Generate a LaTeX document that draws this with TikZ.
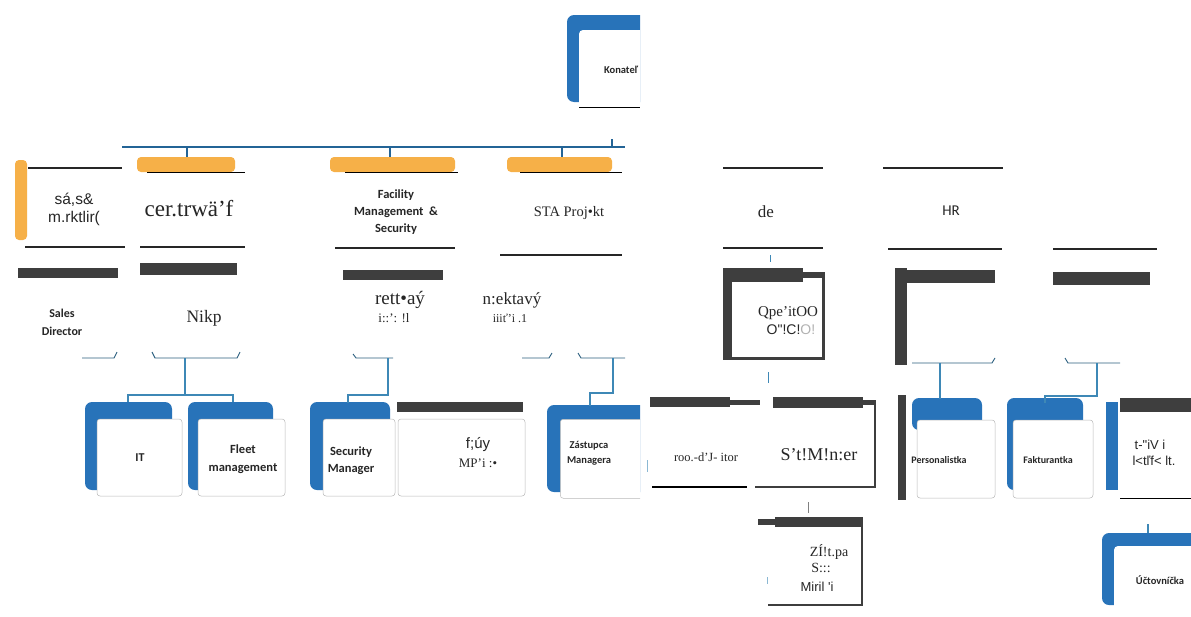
\documentclass[tikz,border=0pt]{standalone}
\usepackage{fontspec}
\setmainfont{Liberation Serif}
\newfontfamily\carl{Carlito}
\newfontfamily\lsans{Liberation Sans}
\definecolor{tabblue}{RGB}{40,115,185}
\definecolor{connblue}{RGB}{62,136,182}
\definecolor{busblue}{RGB}{35,100,150}
\definecolor{tabor}{RGB}{246,176,72}
\definecolor{darkbar}{RGB}{62,62,62}
\begin{document}
\begin{tikzpicture}[x=1pt,y=-1pt,
 btab/.style={fill=tabblue, rounded corners=7pt},
 otab/.style={fill=tabor, rounded corners=4pt},
 card/.style={fill=white, draw=gray!55, line width=0.5pt, rounded corners=3pt},
 dbar/.style={fill=darkbar},
 rulel/.style={draw=black!85, line width=1.4pt},
 conn/.style={draw=connblue, line width=1.6pt},
 brk/.style={draw=connblue!70!black, line width=0.9pt},
 txt/.style={inner sep=0pt, align=center, text=black!85},
 bsans/.style={font=\carl\bfseries\fontsize{#1}{16}\selectfont},
]
\useasboundingbox (0,0) rectangle (1191,616);
\clip (0,0) rectangle (1191,616);
\path[fill=white] (0,0) rectangle (1191,616);

% ---------- Konatel (cut at 640) ----------
\begin{scope}
\clip (0,0) rectangle (640,616);
\fill[btab] (567,15) rectangle (690,102);
\fill[white, rounded corners=4pt] (579,30) rectangle (690,107);
\draw[line width=1pt] (579,107) -- (640,107);
\node[txt, font=\carl\bfseries\fontsize{10.5}{12}\selectfont] (kon) at (621,70) {Konateľ};
\end{scope}

% ---------- bus ----------
\coordinate (busL) at (122,147);
\coordinate (busR) at (625,147);
\draw[draw=busblue, line width=2pt] (busL) -- (busR);
\draw[draw=busblue, line width=2pt] (612,139) -- (612,147);
\foreach \x in {187,390,562} \draw[draw=busblue, line width=1.6pt] (\x,147) -- (\x,158);

% ---------- Sales & marketing ----------
\fill[otab] (15,160) rectangle (27,240);
\draw[rulel] (28,168) -- (122,168);
\node[txt, font=\lsans\fontsize{15.5}{18}\selectfont] (sm) at (74,209) {sá,s\&\\m.rktlir(};
\draw[rulel] (25,247) -- (125,247);
\fill[dbar] (18,268) rectangle (118,278);
\node[txt, font=\carl\bfseries\fontsize{12}{18}\selectfont] (sd) at (62,322) {Sales\\Director};
\draw[brk] (82,358) -- (114,358) -- (117,352);

% ---------- centre ----------
\fill[otab] (137,157) rectangle (235,172);
\draw[line width=0.8pt] (147,172) -- (245,172);
\node[txt, font=\fontsize{23}{26}\selectfont] (ce) at (189,209) {cer.trwä'f};
\draw[rulel] (140,247) -- (245,247);
\fill[dbar] (140,263) rectangle (237,275);
\node[txt, font=\fontsize{17.5}{19}\selectfont] (nk) at (204,318) {Nikp};
\draw[brk] (152,352) -- (155,358) -- (237,358) -- (240,352);
\coordinate (brC) at (185,358);

% ---------- Facility ----------
\fill[otab] (330,157) rectangle (455,172);
\draw[line width=0.8pt] (345,172) -- (458,172);
\node[txt, font=\carl\bfseries\fontsize{12.5}{17}\selectfont] (fm) at (396,212) {Facility\\Management \ \&\\Security};
\draw[rulel] (335,248) -- (455,248);
\fill[dbar] (343,270) rectangle (443,280);
\node[txt, font=\fontsize{19}{20}\selectfont] (rt) at (400,300) {rett•aý};
\node[txt, font=\fontsize{13}{14}\selectfont] (rt2) at (394,318) {i::': !l};
\draw[brk] (353,354) -- (356,358) -- (393,358);
\coordinate (brF) at (388,358);

% ---------- STA ----------
\fill[otab] (507,157) rectangle (612,172);
\draw[line width=0.8pt] (520,172) -- (622,172);
\node[txt, font=\fontsize{14.5}{16}\selectfont] (sta) at (569,213) {STA Proj•kt};
\draw[rulel] (500,255) -- (622,255);
\node[txt, font=\fontsize{17}{18}\selectfont] (nk2) at (512,300) {n:ektavý};
\node[txt, font=\fontsize{12}{14}\selectfont] (nk3) at (510,318) {iiiť'i .1};
\draw[brk] (522,358) -- (549,358) -- (552,353);
\draw[brk] (578,353) -- (581,358) -- (625,358);
\coordinate (brS) at (613,358);

% ---------- level 3 left ----------
\fill[btab] (85,402) rectangle (172,490);
\node[card, minimum width=85pt, minimum height=77pt] (itc) at (139.5,457.5) {};
\node[txt, bsans=12] (it) at (140,458) {IT};
\fill[btab] (188,402) rectangle (273,490);
\node[card, minimum width=87pt, minimum height=77pt] (flc) at (241.5,457.5) {};
\node[txt, font=\carl\bfseries\fontsize{12.5}{18}\selectfont] (fl) at (243,459) {Fleet\\management};
\fill[btab] (310,402) rectangle (390,490);
\node[card, minimum width=72pt, minimum height=77pt] (sec) at (359,457.5) {};
\node[txt, font=\carl\bfseries\fontsize{12.5}{17}\selectfont] (se) at (351,461) {Security\\Manager};

\coordinate (jIT) at (128,402);
\coordinate (jFL) at (233,402);
\draw[conn] (brC) -- (185,395);
\draw[conn] (jIT) -- (128,395) -- (233,395) -- (jFL);
\draw[conn] (brF) -- (388,395) -- (348,395) -- (348,403);

\fill[dbar] (397,402) rectangle (523,412);
\node[card, minimum width=127pt, minimum height=77pt] (fuc) at (461.5,457.5) {};
\node[txt, font=\lsans\fontsize{15}{16}\selectfont] (fu) at (478,445) {f;úy};
\node[txt, font=\fontsize{13}{14}\selectfont] (mp) at (478,463) {MP'i :•};

\begin{scope}
\clip (0,0) rectangle (640,616);
\fill[btab] (547,405) rectangle (680,492);
\node[card, minimum width=110pt, minimum height=79pt, anchor=north west] (zac) at (560,419) {};
\end{scope}
\node[txt, font=\carl\bfseries\fontsize{10.5}{15}\selectfont] (za) at (589,453) {Zástupca\\Managera};
\draw[conn] (brS) -- (613,393) -- (590,393) -- (590,406);

% ---------- right part ----------
\draw[rulel, line width=2.5pt] (723,168) -- (823,168);
\node[txt, font=\fontsize{17}{18}\selectfont] (de) at (766,212) {de};
\draw[rulel, line width=2.5pt] (723,248) -- (823,248);
\draw[connblue, line width=0.8pt] (770,255) -- (770,262);

\fill[dbar] (723,268) rectangle (803,282);
\fill[dbar] (803,272) rectangle (823,278);
\fill[dbar] (723,268) rectangle (732,360);
\draw[darkbar, line width=3pt] (723,358.5) -- (823,358.5) -- (823,272);
\node[txt, font=\fontsize{15}{16}\selectfont] (op1) at (788,313) {Qpe'itOO};
\node[txt, font=\lsans\fontsize{14}{16}\selectfont] (op2) at (791,330) {O"!C!\textcolor{gray!60}{O!}};
\draw[connblue, line width=0.9pt] (768,372) -- (768,383);

\fill[dbar] (650,397) rectangle (730,407);
\fill[dbar] (730,400) rectangle (760,405);
\node[txt, font=\fontsize{12.5}{14}\selectfont] (ro) at (706,457) {roo.-d'J- itor};
\draw[line width=1.5pt] (652,487) -- (747,487);
\draw[connblue!60, line width=0.8pt] (647,460) -- (647,472);

\fill[dbar] (773,397) rectangle (863,408);
\fill[dbar] (863,400) rectangle (875,405);
\draw[darkbar, line width=2pt] (875,400) -- (875,487) -- (755,487);
\node[txt, font=\fontsize{18}{20}\selectfont] (sm2) at (819,455) {S't!M!n:er};

\draw[gray, line width=0.8pt] (808,502) -- (808,513);
\fill[dbar] (758,519) rectangle (775,525);
\fill[dbar] (775,517) rectangle (862,527);
\draw[darkbar, line width=2pt] (862,517) -- (862,605) -- (768,605);
\node[txt, font=\fontsize{14}{16}\selectfont] (z1) at (829,552) {ZÍ!t.pa};
\node[txt, font=\fontsize{14}{16}\selectfont] (z2) at (821,568) {S:::};
\node[txt, font=\lsans\fontsize{13}{15}\selectfont] (z3) at (817,587) {Miril 'i};
\draw[connblue!60, line width=0.8pt] (767,577) -- (767,584);

% HR
\draw[rulel, line width=1.5pt] (883,168) -- (1003,168);
\node[txt, font=\carl\fontsize{15}{16}\selectfont] (hr) at (951,211) {HR};
\draw[rulel, line width=1.5pt] (888,249) -- (1002,249);
\fill[dbar] (895,270) rectangle (995,283);
\fill[dbar] (895,268) rectangle (907,365);
\draw[brk] (912,363) -- (992,363) -- (995,358);
\coordinate (brH) at (940,363);

\draw[rulel, line width=1.5pt] (1053,249) -- (1157,249);
\fill[dbar] (1053,272) rectangle (1150,285);
\draw[brk] (1065,358) -- (1068,363) -- (1120,363);
\coordinate (brA) at (1097,363);

% level 3 right
\fill[dbar] (898,395) rectangle (906,500);
\fill[btab] (912,398) rectangle (982,430);
\node[card, minimum width=78pt, minimum height=78pt] (pec) at (956,459) {};
\node[txt, bsans=10] (pe) at (939,460) {Personalistka};
\draw[conn] (brH) -- (940,399);

\fill[btab] (1007,398) rectangle (1083,490);
\node[card, minimum width=80pt, minimum height=78pt] (fac) at (1053,459) {};
\node[txt, bsans=10] (fa) at (1048,460) {Fakturantka};
\draw[conn] (brA) -- (1097,396) -- (1045,396) -- (1045,403);

\fill[tabblue] (1106,402) rectangle (1118,490);
\fill[white] (1118,412) rectangle (1191,498);
\fill[dbar] (1120,398) rectangle (1191,412);
\draw[line width=1pt] (1120,498) -- (1191,498);
\node[txt, font=\lsans\fontsize{13}{15}\selectfont] (tv1) at (1150,445) {t-"iV i};
\node[txt, font=\lsans\fontsize{13}{15}\selectfont] (tv2) at (1154,461) {l<tľf< lt.};

\draw[connblue, line width=1.2pt] (1148,524) -- (1148,533);
\fill[btab] (1102,533) rectangle (1230,605);
\fill[white, rounded corners=4pt] (1114,546) rectangle (1230,616);
\node[txt, bsans=10.5] (uc) at (1160,580) {Účtovníčka};
\end{tikzpicture}
\end{document}
